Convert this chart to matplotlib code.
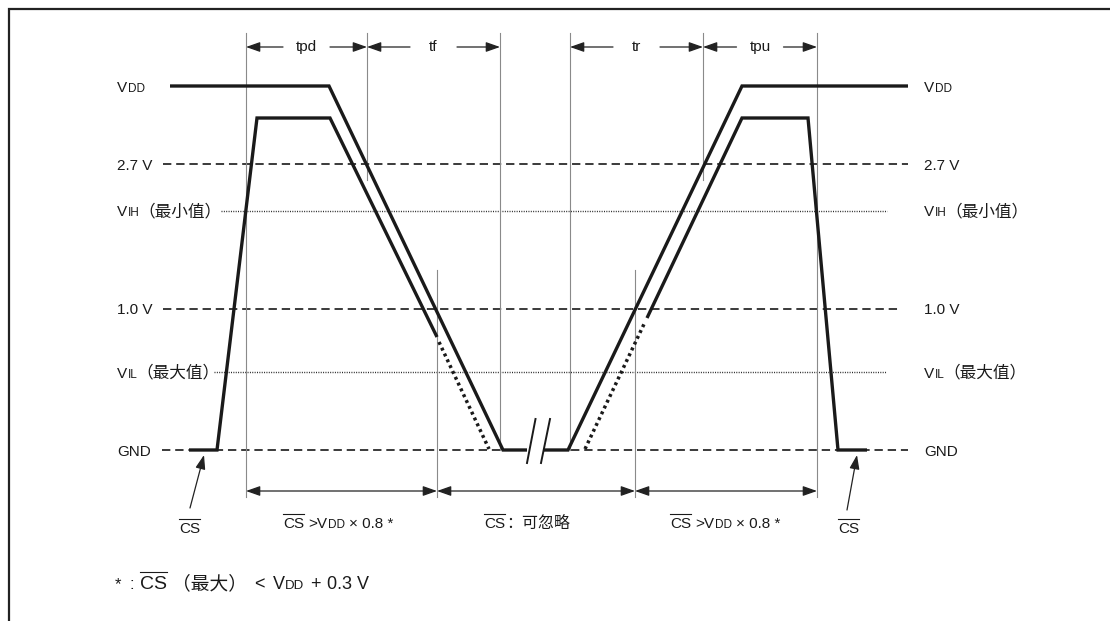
import matplotlib
matplotlib.use('Agg')
import matplotlib.pyplot as plt
from matplotlib.patches import Polygon

FAM = ['Liberation Sans', 'Noto Sans CJK SC', 'DejaVu Sans']
plt.rcParams['font.family'] = FAM
INK = '#1a1a1a'
GRID = '#8a8a8a'

# ---------------- data (diagram units: time to the right, level downward) ----
VDD = 86
CS_HIGH = 118
V27 = 164
VIH = 211
V10 = 309
VIL = 372
GND = 450

# supply waveform, split at the time break
vdd_t1 = [170, 329, 503, 527]
vdd_v1 = [VDD, VDD, GND, GND]
vdd_t2 = [543, 568, 742, 908]
vdd_v2 = [GND, GND, VDD, VDD]

# chip-select waveform (solid parts and "don't care" dotted parts)
cs_t1 = [189, 217, 257, 330, 437]
cs_v1 = [GND, GND, CS_HIGH, CS_HIGH, 337]
cs_dot_t1 = [439, 489]
cs_dot_v1 = [342, 449]
cs_dot_t2 = [585, 645]
cs_dot_v2 = [449, 322]
cs_t2 = [647, 742, 808, 838, 867]
cs_v2 = [318, CS_HIGH, CS_HIGH, GND, GND]

# reference level lines
ref_y = [V27, VIH, V10, VIL, GND]
ref_x0 = [163, 221, 163, 214, 162]
ref_x1 = [908, 887, 898, 886, 908]
ref_kind = ['dash', 'dot', 'dash', 'dot', 'dash']

# timing marker lines
marker_t = [246, 367, 500, 570, 703, 817, 437, 635]
marker_top = [33, 33, 33, 33, 33, 33, 270, 270]
marker_bot = [497, 180, 450, 450, 180, 497, 497, 497]

# timing intervals
top_labels = ['tpd', 'tf', 'tr', 'tpu']
top_t0 = [246, 367, 570, 703]
top_t1 = [367, 500, 703, 817]
bot_t0 = [246, 437, 635]
bot_t1 = [437, 635, 817]

# level label rows: (level, parts)  parts = (text, size, overline, gap_after)
level_rows = [
    (VDD, [("V", 11, False, 0.5), ("DD", 8.5, False, 0)]),
    (V27, [("2.7 V", 11, False, 0)]),
    (VIH, [("V", 11, False, 0.5), ("IH", 8.5, False, -1), ("（最小值）", 12, False, 0)]),
    (V10, [("1.0 V", 11, False, 0)]),
    (VIL, [("V", 11, False, 0.5), ("IL", 8.5, False, -1), ("（最大值）", 12, False, 0)]),
    (GND, [("GND", 11, False, 0)]),
]

bottom_label_parts = [
    [("CS", 11, True, 4), (">V", 11, False, 0.5), ("DD", 8.5, False, 4), ("× 0.8 *", 11, False, 0)],
    [("CS", 11, True, 1), ("：可忽略", 11.5, False, 0)],
    [("CS", 11, True, 4), (">V", 11, False, 0.5), ("DD", 8.5, False, 4), ("× 0.8 *", 11, False, 0)],
]
bottom_label_centers = [338, 527, 725]

footnote_parts = [("*", 12, False, 8), (":", 12, False, 6), ("CS", 14, True, 5),
                  ("（最大）", 13.5, False, 7), ("<", 13, False, 8), ("V", 13, False, 0.5),
                  ("DD", 9.5, False, 6), ("+", 13, False, 6), ("0.3 V", 13, False, 0)]

# ---------------- figure ----------------
fig = plt.figure(figsize=(11.1, 6.21), dpi=100)
ax = fig.add_axes([0, 0, 1, 1])
ax.set_xlim(0, 1110)
ax.set_ylim(621, 0)
ax.axis('off')
renderer = fig.canvas.get_renderer()

# frame
ax.plot([9, 9, 1110], [621, 8.5, 8.5], color='#222222', lw=1.6, solid_joinstyle='miter')

# reference lines
for y, x0, x1, kind in zip(ref_y, ref_x0, ref_x1, ref_kind):
    if kind == 'dash':
        ax.plot([x0, x1], [y, y], color='#222222', lw=1.25, linestyle=(0, (4.8, 2.8)), zorder=1)
    else:
        ax.plot([x0, x1], [y, y], color='#222222', lw=1.0, linestyle=(0, (0.7, 1.0)), zorder=1)

# marker lines
for t, a, b in zip(marker_t, marker_top, marker_bot):
    ax.plot([t, t], [a, b], color=GRID, lw=0.8, zorder=1)

# break gap (white) between slashes
ax.add_patch(Polygon([[528.3, 456], [530.5, 444], [544.9, 444], [542.4, 456]],
                     closed=True, facecolor='white', edgecolor='none', zorder=2))

# waveforms
wkw = dict(color=INK, lw=2.4, solid_joinstyle='miter', solid_capstyle='butt', zorder=3)
ax.plot(vdd_t1, vdd_v1, **wkw)
ax.plot(vdd_t2, vdd_v2, **wkw)
ax.plot(cs_t1, cs_v1, **wkw)
ax.plot(cs_t2, cs_v2, **wkw)
dkw = dict(color=INK, lw=2.5, linestyle=(0, (0.85, 1.0)), zorder=3)
ax.plot(cs_dot_t1, cs_dot_v1, **dkw)
ax.plot(cs_dot_t2, cs_dot_v2, **dkw)

# break slashes
ax.plot([527, 535.5], [463, 419], color=INK, lw=1.4, zorder=4)
ax.plot([541, 550], [463, 419], color=INK, lw=1.4, zorder=4)

# arrows
def arrow(tail, tip, double=False):
    style = '<|-|>' if double else '-|>'
    ax.annotate('', xy=tip, xytext=tail,
                arrowprops=dict(arrowstyle=style + ',head_length=0.85,head_width=0.3',
                                mutation_scale=10, color='#222222', lw=0.9,
                                shrinkA=0, shrinkB=0), zorder=4)

TOP_Y = 47
for lab, a, b in zip(top_labels, top_t0, top_t1):
    mid = (a + b) / 2
    arrow((mid - 23.5, TOP_Y), (a, TOP_Y))
    arrow((mid + 23.5, TOP_Y), (b, TOP_Y))
    ax.text(mid, TOP_Y, lab, fontsize=11, ha='center', va='center', color=INK)

BOT_Y = 491
for a, b in zip(bot_t0, bot_t1):
    arrow((a, BOT_Y), (b, BOT_Y), double=True)

# pointer arrows to CS waveform
arrow((190, 508), (204, 455))
arrow((847, 510), (857, 455))


def rich(x, y, parts, ha='left'):
    arts = []
    cur = x
    for s, size, over, gap in parts:
        t = ax.text(cur, y, s, fontsize=size, va='baseline', ha='left', color=INK, zorder=5)
        w = t.get_window_extent(renderer).width
        arts.append((t, cur, w, size, over))
        cur += w + gap
    total = cur - x
    shift = -total / 2 if ha == 'center' else 0
    for t, cx, w, size, over in arts:
        t.set_x(cx + shift)
        if over:
            cap = size * 100 / 72 * 0.72
            yy = y - cap - 3
            ax.plot([cx + shift, cx + shift + w], [yy, yy], color=INK, lw=0.8, zorder=5)


for lvl, parts in level_rows:
    rich(117, lvl + 5.5, parts)
    rich(924, lvl + 5.5, parts)

for parts, c in zip(bottom_label_parts, bottom_label_centers):
    rich(c, 528, parts, ha='center')

rich(179, 533, [("CS", 11, True, 0)])
rich(838, 533, [("CS", 11, True, 0)])

rich(115, 589, footnote_parts)

fig.savefig('out.png', dpi=100, facecolor='white')
